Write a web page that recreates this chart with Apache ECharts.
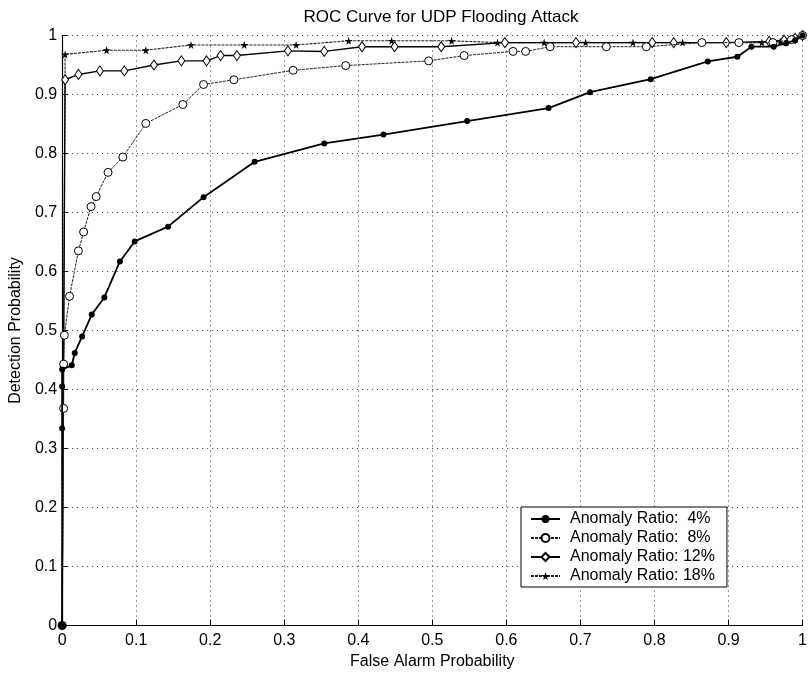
<!DOCTYPE html>
<html>
<head>
<meta charset="utf-8">
<script src="https://cdn.jsdelivr.net/npm/echarts@6/dist/echarts.min.js"></script>
<style>
  html, body { margin: 0; padding: 0; background: #fff; }
  #chart { width: 810px; height: 675px; }
</style>
</head>
<body>
<div id="chart"></div>
<script>
// ROC curves: detection probability vs. false alarm probability
const seriesNames = ['Anomaly Ratio:  4%', 'Anomaly Ratio:  8%', 'Anomaly Ratio: 12%', 'Anomaly Ratio: 18%'];

const fa4 = [0, 0, 0, 0, 0.013, 0.017, 0.027, 0.040, 0.057, 0.078, 0.098, 0.143, 0.191, 0.260, 0.354, 0.434, 0.547, 0.657, 0.713, 0.795, 0.872, 0.912, 0.931, 0.961, 0.978, 0.990, 1];
const pd4 = [0, 0.334, 0.405, 0.434, 0.441, 0.462, 0.490, 0.527, 0.556, 0.617, 0.651, 0.676, 0.726, 0.786, 0.817, 0.832, 0.855, 0.877, 0.904, 0.926, 0.956, 0.964, 0.981, 0.981, 0.987, 0.992, 1];

const fa8 = [0, 0.002, 0.002, 0.003, 0.010, 0.022, 0.029, 0.039, 0.046, 0.062, 0.082, 0.113, 0.163, 0.191, 0.232, 0.312, 0.383, 0.495, 0.543, 0.609, 0.626, 0.659, 0.735, 0.789, 0.864, 0.914, 0.960, 0.985, 1];
const pd8 = [0, 0.368, 0.443, 0.492, 0.558, 0.635, 0.667, 0.710, 0.727, 0.768, 0.794, 0.851, 0.883, 0.917, 0.925, 0.941, 0.949, 0.957, 0.966, 0.973, 0.973, 0.981, 0.981, 0.981, 0.988, 0.988, 0.988, 0.993, 1];

const fa12 = [0, 0.004, 0.022, 0.051, 0.084, 0.124, 0.161, 0.195, 0.214, 0.236, 0.305, 0.354, 0.405, 0.449, 0.512, 0.598, 0.694, 0.797, 0.826, 0.897, 0.955, 0.975, 0.990, 1];
const pd12 = [0, 0.925, 0.934, 0.940, 0.940, 0.950, 0.957, 0.957, 0.966, 0.966, 0.974, 0.973, 0.981, 0.981, 0.981, 0.988, 0.988, 0.988, 0.988, 0.988, 0.990, 0.992, 0.995, 1];

const fa18 = [0, 0.004, 0.060, 0.113, 0.174, 0.246, 0.316, 0.387, 0.445, 0.526, 0.588, 0.651, 0.707, 0.771, 0.838, 0.945, 0.970, 0.985, 1];
const pd18 = [0, 0.968, 0.975, 0.975, 0.984, 0.984, 0.984, 0.991, 0.991, 0.991, 0.988, 0.988, 0.988, 0.988, 0.988, 0.988, 0.990, 0.994, 1];

const xTickLabels = ['0', '0.1', '0.2', '0.3', '0.4', '0.5', '0.6', '0.7', '0.8', '0.9', '1'];
const yTickLabels = ['0', '0.1', '0.2', '0.3', '0.4', '0.5', '0.6', '0.7', '0.8', '0.9', '1'];

const FONT = '"Liberation Sans", Arial, Helvetica, sans-serif';
const STAR = 'path://M50,0 L61,35 L98,35 L68,57 L79,91 L50,70 L21,91 L32,57 L2,35 L39,35 Z';

// pair up x/y arrays; the shared origin gets a larger dot on the 4% curve and no marker elsewhere
function pairs(xs, ys, hideOrigin) {
  return xs.map((x, i) => {
    if (x === 0 && ys[i] === 0) {
      return hideOrigin ? { value: [x, ys[i]], symbol: 'none' } : { value: [x, ys[i]], symbolSize: 9 };
    }
    return [x, ys[i]];
  });
}

const tickFmt = labels => v => {
  const i = Math.round(v * 10);
  return labels[i] !== undefined ? labels[i] : '';
};

const chart = echarts.init(document.getElementById('chart'), null, { renderer: 'canvas' });

const axisCommon = {
  type: 'value',
  min: 0,
  max: 1,
  interval: 0.1,
  axisLine: { show: true, onZero: false, lineStyle: { color: '#000', width: 1.2 } },
  axisTick: { show: true, inside: true, length: 6, lineStyle: { color: '#000', width: 1 } },
  splitLine: { show: true, lineStyle: { color: '#333', width: 1, type: [1, 4] } },
  nameTextStyle: { color: '#000', fontSize: 16, fontFamily: FONT }
};

chart.setOption({
  animation: false,
  backgroundColor: '#fff',
  title: {
    text: 'ROC Curve for UDP Flooding Attack',
    left: 436,
    textAlign: 'center',
    top: 4,
    textStyle: { color: '#000', fontSize: 17, fontWeight: 'normal', fontFamily: FONT }
  },
  grid: { left: 59.5, right: 2.5, top: 35.5, bottom: 49.5, containLabel: false },
  xAxis: Object.assign({}, axisCommon, {
    name: 'False Alarm Probability',
    nameLocation: 'middle',
    nameGap: 28,
    axisLabel: { color: '#000', fontSize: 16, fontFamily: FONT, margin: 7, formatter: tickFmt(xTickLabels) }
  }),
  yAxis: Object.assign({}, axisCommon, {
    name: 'Detection Probability',
    nameLocation: 'middle',
    nameGap: 35,
    axisLabel: { color: '#000', fontSize: 16, fontFamily: FONT, margin: 5, formatter: tickFmt(yTickLabels) }
  }),
  legend: {
    orient: 'vertical',
    left: 521,
    top: 507,
    padding: [4, 12, 3, 9],
    itemGap: 3,
    itemWidth: 29,
    itemHeight: 10,
    borderColor: '#000',
    borderWidth: 1,
    backgroundColor: '#fff',
    textStyle: { color: '#000', fontSize: 16, fontFamily: FONT, lineHeight: 16, padding: [0, 0, 0, 5] },
    data: seriesNames
  },
  series: [
    {
      name: seriesNames[0],
      type: 'line',
      data: pairs(fa4, pd4, false),
      symbol: 'circle',
      symbolSize: 6,
      itemStyle: { color: '#000' },
      lineStyle: { color: '#000', width: 1.8 },
      z: 5
    },
    {
      name: seriesNames[1],
      type: 'line',
      data: pairs(fa8, pd8, true),
      symbol: 'circle',
      symbolSize: 8,
      itemStyle: { color: '#fff', borderColor: '#000', borderWidth: 1 },
      lineStyle: { color: '#222', width: 1, type: [3, 1] },
      z: 4
    },
    {
      name: seriesNames[2],
      type: 'line',
      data: pairs(fa12, pd12, true),
      symbol: 'diamond',
      symbolSize: [7, 10],
      itemStyle: { color: '#fff', borderColor: '#000', borderWidth: 1 },
      lineStyle: { color: '#000', width: 1.4 },
      z: 3
    },
    {
      name: seriesNames[3],
      type: 'line',
      data: pairs(fa18, pd18, true),
      symbol: STAR,
      symbolSize: 8,
      itemStyle: { color: '#000' },
      lineStyle: { color: '#222', width: 1.1, type: [3, 1] },
      z: 2
    }
  ]
});
</script>
</body>
</html>
